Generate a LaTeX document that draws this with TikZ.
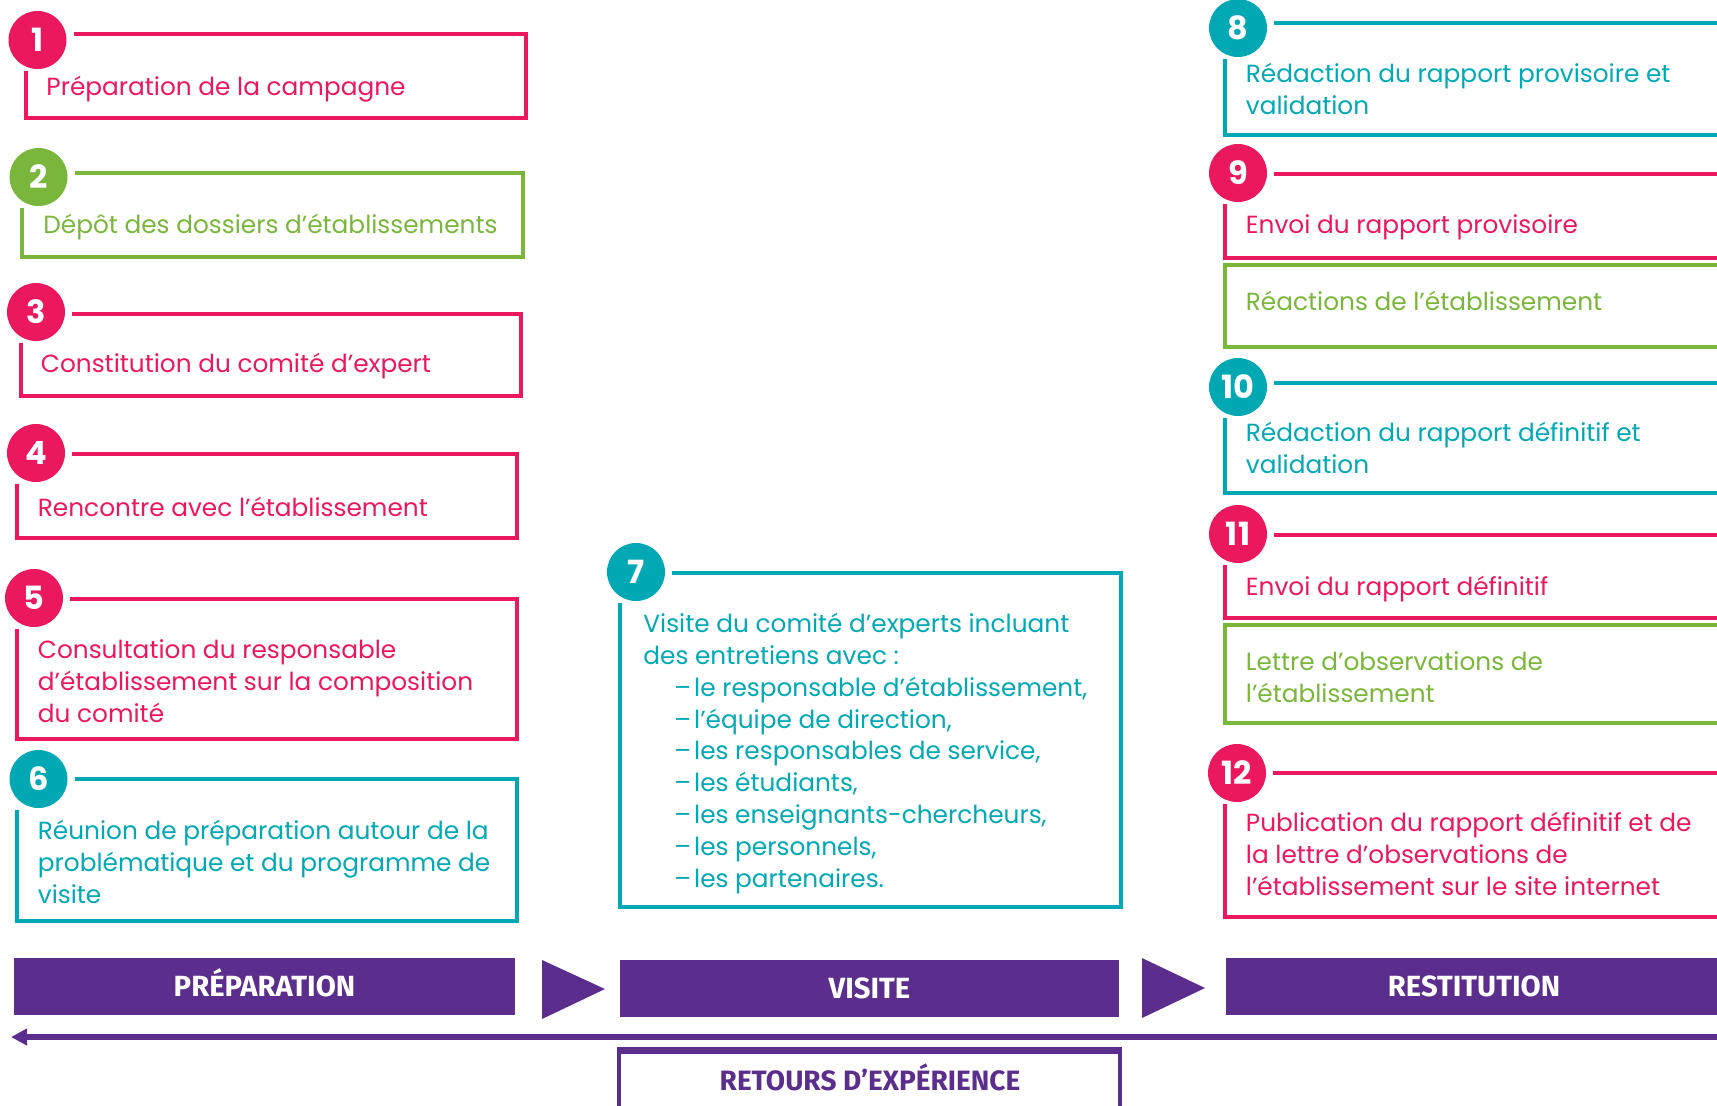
\documentclass[tikz,border=0pt]{standalone}
\usepackage{fontspec}
\setmainfont{Poppins}
\newfontfamily\barfont{Fira Sans}
\usetikzlibrary{arrows.meta}
\definecolor{pinkc}{RGB}{236,24,94}
\definecolor{greenc}{RGB}{122,182,60}
\definecolor{tealc}{RGB}{0,168,180}
\definecolor{purplec}{RGB}{91,46,142}
% #1 number, #2 colour, #3 left, #4 top, #5 right, #6 bottom, #7 cx, #8 cy
\newcommand\procframe[8]{%
  \node[numcirc,fill=#2] (c#1) at (#7,#8) {#1};
  \draw[#2,frameline] (#7+36,#4) -- (#5,#4) -- (#5,#6) -- (#3,#6) -- (#3,#8+31);
}
\begin{document}
\begin{tikzpicture}[x=0.5pt,y=-0.5pt,
  numcirc/.style={circle,inner sep=0pt,minimum size=29pt,text=white,
    font=\fontsize{16}{16}\selectfont\bfseries},
  frameline/.style={line width=1.7pt},
  body/.style={anchor=base west,inner sep=0pt,align=left,
    font=\fontsize{12.4}{15.9}\selectfont},
  phase/.style={fill=purplec,draw=none,inner sep=0pt,text=white,
    text height=10pt,text depth=0pt,minimum height=28.5pt,
    font=\barfont\bfseries\fontsize{14.6}{14.6}\selectfont},
  tri/.style={fill=purplec,draw=none},
]
\useasboundingbox (0,0) rectangle (1717,1105);
\clip (0,0) rectangle (1717,1105);

% ---------- left column ----------
\procframe{1}{pinkc}{26}{34}{526}{118}{37.5}{40}
\procframe{2}{greenc}{22}{173}{523}{257}{38.5}{177}
\procframe{3}{pinkc}{21}{314}{521}{396}{36}{312}
\procframe{4}{pinkc}{17}{454}{517}{538}{36}{453}
\procframe{5}{pinkc}{17}{599}{517}{739}{34}{598}
\procframe{6}{tealc}{17}{779}{517}{921}{38.5}{779}

% (anchor = baseline of the last line)
\node[body,text=pinkc] (t1) at (46,95) {Préparation de la campagne};
\node[body,text=greenc] (t2) at (43,233) {Dépôt des dossiers d’établissements};
\node[body,text=pinkc] (t3) at (40.5,372) {Constitution du comité d’expert};
\node[body,text=pinkc] (t4) at (37.5,516) {Rencontre avec l’établissement};
\node[body,text=pinkc] (t5) at (37.5,722) {Consultation du responsable\\d’établissement sur la composition\\du comité};
\node[body,text=tealc] (t6) at (37.5,903) {Réunion de préparation autour de la\\problématique et du programme de\\visite};

% ---------- middle column ----------
\procframe{7}{tealc}{620}{573}{1121}{907}{636}{572}
\node[body,text=tealc] (t7) at (643,887) {Visite du comité d’experts incluant\\des entretiens avec :\\
\hspace*{15.5pt}–\kern1.5pt le responsable d’établissement,\\
\hspace*{15.5pt}–\kern1.5pt l’équipe de direction,\\
\hspace*{15.5pt}–\kern1.5pt les responsables de service,\\
\hspace*{15.5pt}–\kern1.5pt les étudiants,\\
\hspace*{15.5pt}–\kern1.5pt les enseignants-chercheurs,\\
\hspace*{15.5pt}–\kern1.5pt les personnels,\\
\hspace*{15.5pt}–\kern1.5pt les partenaires.};

% ---------- right column ----------
\procframe{8}{tealc}{1225}{23}{1740}{135}{1238}{28}
\procframe{9}{pinkc}{1225}{174}{1740}{258}{1238}{173}
\draw[greenc,frameline] (1740,265) -- (1225,265) -- (1225,347) -- (1740,347);
\procframe{10}{tealc}{1225}{383}{1740}{493}{1238}{387}
\procframe{11}{pinkc}{1225}{535}{1740}{618}{1238}{534}
\draw[greenc,frameline] (1740,625) -- (1225,625) -- (1225,723) -- (1740,723);
\procframe{12}{pinkc}{1225}{773}{1740}{917}{1237}{773}

\node[body,text=tealc] (t8) at (1245.5,114) {Rédaction du rapport provisoire et\\validation};
\node[body,text=pinkc] (t9) at (1245.5,233) {Envoi du rapport provisoire};
\node[body,text=greenc] (ta) at (1245.5,310) {Réactions de l’établissement};
\node[body,text=tealc] (t10) at (1245.5,473) {Rédaction du rapport définitif et\\validation};
\node[body,text=pinkc] (t11) at (1245.5,595) {Envoi du rapport définitif};
\node[body,text=greenc] (tb) at (1245.5,702) {Lettre d’observations de\\l’établissement};
\node[body,text=pinkc] (t12) at (1245.5,895) {Publication du rapport définitif et de\\la lettre d’observations de\\l’établissement sur le site internet};

% ---------- phases ----------
\node[phase,minimum width=250.5pt] (prep) at (264.5,986.5) {PRÉPARATION};
\node[phase,minimum width=249.5pt] (visit) at (869.5,988.5) {VISITE};
\node[phase,minimum width=248pt] (rest) at (1474,986.5) {RESTITUTION};
\fill[tri] (542,960) -- (605,989) -- (542,1019) -- cycle;
\fill[tri] (1142,958) -- (1205,988) -- (1142,1018) -- cycle;

% ---------- feedback ----------
\coordinate (fbr) at (1725,1037);
\coordinate (fbl) at (11,1037);
\draw[purplec,line width=2.6pt,-{Triangle[length=8pt,width=8pt]}] (fbr) -- (fbl);
\node[draw=purplec,line width=2.3pt,minimum width=250.5pt,minimum height=50pt,anchor=north,inner sep=0pt] (retbox) at (869.5,1049) {};
\draw[purplec,line width=2.3pt] (retbox.north west) -- (retbox.north east);
\node[anchor=base,inner sep=0pt,text=purplec,font=\barfont\bfseries\fontsize{14}{14}\selectfont] (ret) at (870,1090) {RETOURS D’EXPÉRIENCE};
\end{tikzpicture}
\end{document}
